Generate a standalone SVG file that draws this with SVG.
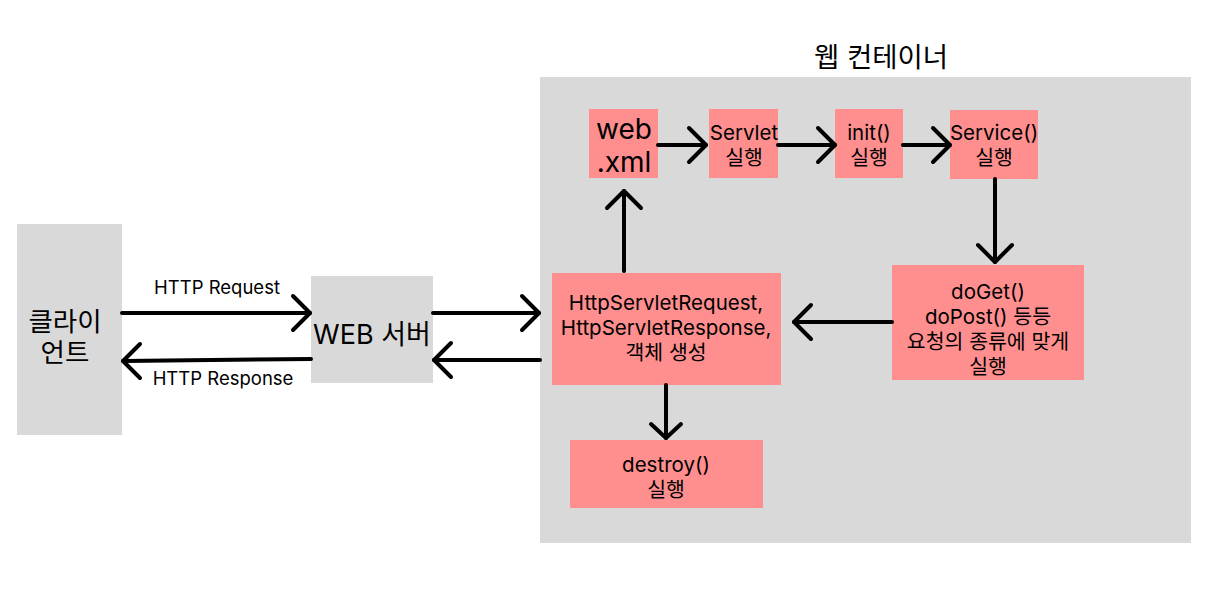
<svg xmlns="http://www.w3.org/2000/svg" width="1215" height="595" viewBox="0 0 1215 595">
<style>
text{font-family:Inter,"Noto Sans","Noto Sans CJK KR",sans-serif;fill:#000;text-anchor:middle}
.g{fill:#d9d9d9}
.p{fill:#ff8e8e}
.t18{font-size:20.5px}
.t16{font-size:18.5px}
.c line,.c polyline{stroke:#000;stroke-width:4;fill:none;stroke-linecap:round;stroke-linejoin:round}
</style>
<rect width="1215" height="595" fill="#fff"/>
<g id="container">
<rect class="g" x="540" y="77" width="651" height="466"/>
<text x="881" y="67" font-size="27.5">웹 컨테이너</text>
</g>
<g id="client">
<rect class="g" x="17" y="224" width="105" height="211"/>
<text x="65" y="331" font-size="26.5">클라이</text>
<text x="65" y="362" font-size="26.5">언트</text>
</g>
<g id="webserver">
<rect class="g" x="311" y="276" width="122" height="107"/>
<text x="372" y="344" font-size="27">WEB 서버</text>
</g>
<g id="webxml">
<rect class="p" x="589" y="109" width="69" height="69"/>
<text x="624" y="139" font-size="28">web</text>
<text x="624" y="172" font-size="28">.xml</text>
</g>
<g id="servlet">
<rect class="p" x="709" y="109" width="69" height="69"/>
<text class="t18" x="744" y="140">Servlet</text>
<text class="t18" x="744" y="165">실행</text>
</g>
<g id="init">
<rect class="p" x="835" y="109" width="68" height="69"/>
<text class="t18" x="869" y="140">init()</text>
<text class="t18" x="869" y="165">실행</text>
</g>
<g id="service">
<rect class="p" x="950" y="110" width="88" height="69"/>
<text class="t18" x="994" y="140">Service()</text>
<text class="t18" x="994" y="165">실행</text>
</g>
<g id="httpobj">
<rect class="p" x="552" y="273" width="229" height="112"/>
<text class="t18" x="666" y="310">HttpServletRequest,</text>
<text class="t18" x="666" y="335">HttpServletResponse,</text>
<text class="t18" x="666" y="360">객체 생성</text>
</g>
<g id="doget">
<rect class="p" x="892" y="265" width="192" height="115"/>
<text class="t18" x="988" y="299">doGet()</text>
<text class="t18" x="988" y="324">doPost() 등등</text>
<text class="t18" x="988" y="349">요청의 종류에 맞게</text>
<text class="t18" x="988" y="374">실행</text>
</g>
<g id="destroy">
<rect class="p" x="570" y="440" width="193" height="68"/>
<text class="t18" x="666" y="472">destroy()</text>
<text class="t18" x="666" y="497">실행</text>
</g>
<g id="connectors" class="c">
<line x1="122" y1="313" x2="310" y2="313"/><polyline points="293,296 310,313 293,330"/>
<line x1="311" y1="359" x2="123" y2="361"/><polyline points="140,344 123,361 140,378"/>
<line x1="433" y1="313" x2="539" y2="313"/><polyline points="522,296 539,313 522,330"/>
<line x1="540" y1="360" x2="434" y2="360"/><polyline points="451,343 434,360 451,377"/>
<line x1="624" y1="271" x2="624" y2="191"/><polyline points="607,208 624,191 641,208"/>
<line x1="658" y1="145" x2="706" y2="145"/><polyline points="689,128 706,145 689,162"/>
<line x1="778" y1="145" x2="835" y2="145"/><polyline points="818,128 835,145 818,162"/>
<line x1="903" y1="145" x2="950" y2="145"/><polyline points="933,128 950,145 933,162"/>
<line x1="995" y1="179" x2="995" y2="262"/><polyline points="978,245 995,262 1012,245"/>
<line x1="892" y1="322" x2="794" y2="322"/><polyline points="811,305 794,322 811,339"/>
<line x1="666" y1="385" x2="666" y2="438"/><polyline points="651,424 666,438 681,424"/>
</g>
<g id="labels">
<text class="t16" x="217" y="294">HTTP Request</text>
<text class="t16" x="223" y="385">HTTP Response</text>
</g>
</svg>
